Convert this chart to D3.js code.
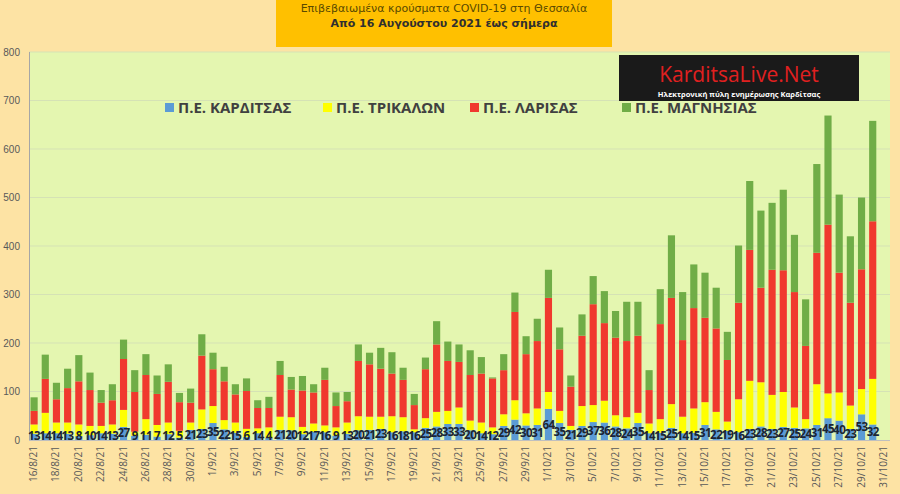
<!DOCTYPE html>
<html><head><meta charset="utf-8">
<script src="https://cdn.jsdelivr.net/npm/d3@7"></script>
<style>body{margin:0;background:#FDE3A4;}svg{display:block;font-family:"Open Sans","DejaVu Sans",sans-serif;}</style>
</head><body><svg id="c" width="900" height="494"></svg>
<script>
const dates = ["16/8/21","17/8/21","18/8/21","19/8/21","20/8/21","21/8/21","22/8/21","23/8/21","24/8/21","25/8/21","26/8/21","27/8/21","28/8/21","29/8/21","30/8/21","31/8/21",
"1/9/21","2/9/21","3/9/21","4/9/21","5/9/21","6/9/21","7/9/21","8/9/21","9/9/21","10/9/21","11/9/21","12/9/21","13/9/21","14/9/21","15/9/21","16/9/21","17/9/21","18/9/21","19/9/21","20/9/21","21/9/21","22/9/21","23/9/21","24/9/21","25/9/21","26/9/21","27/9/21","28/9/21","29/9/21","30/9/21",
"1/10/21","2/10/21","3/10/21","4/10/21","5/10/21","6/10/21","7/10/21","8/10/21","9/10/21","10/10/21","11/10/21","12/10/21","13/10/21","14/10/21","15/10/21","16/10/21","17/10/21","18/10/21","19/10/21","20/10/21","21/10/21","22/10/21","23/10/21","24/10/21","25/10/21","26/10/21","27/10/21","28/10/21","29/10/21","30/10/21","31/10/21"];
const karditsa = [13,14,14,13,8,10,14,13,27,9,11,7,12,5,21,23,35,22,15,6,14,4,21,20,12,17,16,9,13,20,21,23,16,18,16,25,28,33,33,20,14,12,29,42,30,31,64,35,21,29,37,36,28,24,35,14,15,25,14,15,31,22,19,16,23,28,23,27,25,24,31,45,40,23,53,32,null];
// cumulative tops
const yellowTop = [32,56,36,36,32,29,29,32,62,17,43,31,36,19,36,63,70,41,36,23,24,26,48,47,27,34,30,26,36,49,48,48,49,47,22,45,58,60,67,40,36,26,53,82,55,65,99,60,29,70,72,81,51,47,56,34,43,74,48,65,78,58,38,84,122,119,93,99,67,43,115,96,98,71,105,126,null];
const redTop = [60,126,84,107,121,103,77,82,167,99,134,95,120,78,77,174,146,121,94,101,66,66,134,104,102,98,124,70,80,163,156,147,137,124,72,146,197,163,161,134,137,127,144,264,177,204,293,187,110,215,280,241,211,204,215,103,239,293,206,272,252,230,165,283,392,314,351,350,305,194,386,444,345,283,352,451,null];
const totalTop = [88,176,118,147,175,139,103,115,207,144,177,133,156,97,106,218,180,151,115,127,82,89,163,130,132,115,149,98,99,197,180,190,181,149,95,170,245,203,197,185,171,129,177,304,214,250,351,232,133,259,338,307,266,285,285,144,311,422,305,362,345,314,223,401,534,473,489,516,423,290,569,669,506,420,500,658,null];
const trikala = yellowTop.map((v,i)=>v==null?null:Math.max(0,v-karditsa[i]));
const larisa = redTop.map((v,i)=>v==null?null:v-yellowTop[i]);
const magnisia = totalTop.map((v,i)=>v==null?null:v-redTop[i]);
const seriesNames = ["Π.Ε. ΚΑΡΔΙΤΣΑΣ","Π.Ε. ΤΡΙΚΑΛΩΝ","Π.Ε. ΛΑΡΙΣΑΣ","Π.Ε. ΜΑΓΝΗΣΙΑΣ"];
const colors = ["#5B9BD5","#FFFF00","#F0392E","#70AD47"];
const yTicks = [0,100,200,300,400,500,600,700,800];

const svg = d3.select("#c");
const x = d3.scaleBand().domain(dates).range([28.5,889.5]).paddingInner(0.36).paddingOuter(0.18);
const y = d3.scaleLinear().domain([0,800]).range([440,52]);

svg.append("rect").attr("x",29).attr("y",52).attr("width",861).attr("height",388).attr("fill","#E4F6B0");
svg.append("g").selectAll("line").data(yTicks.slice(1)).join("line")
 .attr("x1",29).attr("x2",890).attr("y1",d=>y(d)).attr("y2",d=>y(d)).attr("stroke","#D5E2B5").attr("stroke-width",1);
svg.append("line").attr("x1",29.5).attr("x2",29.5).attr("y1",52).attr("y2",440).attr("stroke","#A6A6A6");
svg.append("line").attr("x1",29).attr("x2",890).attr("y1",440.5).attr("y2",440.5).attr("stroke","#BFBFBF");

const yAxis = svg.append("g").attr("transform","translate(22,0)").call(d3.axisLeft(y).tickValues(yTicks).tickSize(0).tickFormat(d3.format("d")));
yAxis.select(".domain").remove();
yAxis.selectAll("text").attr("fill","#595959").style("font-size","10px").attr("x",-2);

const rows = dates.map((d,i)=>({d,k:karditsa[i]||0,t:trikala[i]||0,l:larisa[i]||0,m:magnisia[i]||0}));
const stack = d3.stack().keys(["k","t","l","m"])(rows);
svg.append("g").selectAll("g").data(stack).join("g").attr("fill",(s,i)=>colors[i])
 .selectAll("rect").data(s=>s).join("rect")
 .attr("x",d=>x(d.data.d)).attr("width",x.bandwidth())
 .attr("y",d=>y(d[1])).attr("height",d=>y(d[0])-y(d[1]));

svg.append("g").selectAll("text").data(rows.filter(r=>r.k>0)).join("text")
 .attr("x",d=>x(d.d)+x.bandwidth()/2).attr("y",d=>Math.min((y(0)+y(d.k))/2,436))
 .attr("dy","0.35em").attr("text-anchor","middle").attr("fill","#1C2533")
 .style("font-size","11.5px").style("font-weight","bold").style("letter-spacing","-0.5px").text(d=>d.k);

svg.append("g").selectAll("text").data(dates.filter((d,i)=>i%2===0)).join("text")
 .attr("transform",d=>`translate(${x(d)+x.bandwidth()/2+3},446) rotate(-90)`)
 .attr("text-anchor","end").attr("fill","#595959").style("font-size","10px").text(d=>d);

// legend
const lx = [165,323,470,622];
const lg = svg.append("g").selectAll("g").data(seriesNames).join("g").attr("transform",(d,i)=>`translate(${lx[i]},108)`);
lg.append("rect").attr("x",0).attr("y",-5).attr("width",9).attr("height",9).attr("fill",(d,i)=>colors[i]);
lg.append("text").attr("x",13).attr("y",0).attr("dy","0.35em").attr("fill","#404040").style("font-size","15px").style("font-weight","bold").text(d=>d);

// title box
svg.append("rect").attr("x",276).attr("y",0).attr("width",336).attr("height",47).attr("fill","#FFC000");
svg.append("text").attr("x",444).attr("y",12).attr("text-anchor","middle").attr("fill","#5A4A00").style("font-family","Verdana,'DejaVu Sans',sans-serif").style("font-size","11px").text("Επιβεβαιωμένα κρούσματα COVID-19 στη Θεσσαλία");
svg.append("text").attr("x",444).attr("y",27).attr("text-anchor","middle").attr("fill","#2F2F2F").style("font-family","Verdana,'DejaVu Sans',sans-serif").style("font-weight","bold").style("font-size","11px").text("Από 16 Αυγούστου 2021 έως σήμερα");

// logo
svg.append("rect").attr("x",619).attr("y",55).attr("width",240).attr("height",46).attr("fill","#1A1A1A");
svg.append("text").attr("x",739).attr("y",82).attr("text-anchor","middle").attr("fill","#E02020").style("font-size","21px").text("KarditsaLive.Net");
svg.append("text").attr("x",739).attr("y",97).attr("text-anchor","middle").attr("fill","#FFFFFF").style("font-size","7.5px").style("font-weight","bold").text("Ηλεκτρονική πύλη ενημέρωσης Καρδίτσας");
</script></body></html>
